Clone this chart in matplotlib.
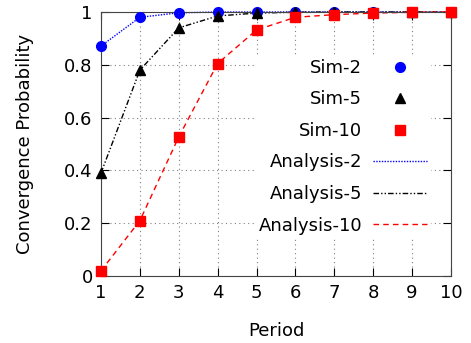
import matplotlib.pyplot as plt

periods = [1, 2, 3, 4, 5, 6, 7, 8, 9, 10]
sim_2 = [0.871, 0.98, 0.997, 1.0, 1.0, 1.0, 1.0, 1.0, 1.0, 1.0]
sim_5 = [0.39, 0.78, 0.94, 0.985, 0.996, 0.999, 1.0, 1.0, 1.0, 1.0]
sim_10 = [0.02, 0.21, 0.527, 0.805, 0.932, 0.98, 0.99, 0.996, 0.999, 1.0]
ana_2 = [0.871, 0.98, 0.997, 1.0, 1.0, 1.0, 1.0, 1.0, 1.0, 1.0]
ana_5 = [0.39, 0.78, 0.94, 0.985, 0.996, 0.999, 1.0, 1.0, 1.0, 1.0]
ana_10 = [0.02, 0.21, 0.527, 0.805, 0.932, 0.98, 0.99, 0.996, 0.999, 1.0]

plt.rcParams['font.family'] = 'DejaVu Sans'
fig, ax = plt.subplots(figsize=(4.71, 3.43), dpi=100)
fig.subplots_adjust(left=0.2144, right=0.9575, top=0.965, bottom=0.195)

ax.plot(periods, sim_2, 'o', color='blue', ms=7, label='Sim-2', clip_on=False, zorder=5)
ax.plot(periods, sim_5, '^', color='black', ms=7, label='Sim-5', clip_on=False, zorder=5)
ax.plot(periods, sim_10, 's', color='red', ms=7, label='Sim-10', clip_on=False, zorder=5)
ax.plot(periods, ana_2, color='blue', lw=1, ls=(0, (1, 1)), label='Analysis-2', clip_on=False)
ax.plot(periods, ana_5, color='black', lw=1, ls=(0, (4, 1.5, 1, 1.5, 1, 1.5)), label='Analysis-5', clip_on=False)
ax.plot(periods, ana_10, color='red', lw=1, ls=(0, (4, 3)), label='Analysis-10', clip_on=False)

ax.set_xlim(1, 10)
ax.set_ylim(0, 1)
ax.set_xticks(periods)
ax.set_yticks([0, 0.2, 0.4, 0.6, 0.8, 1])
ax.set_yticklabels(['0', '0.2', '0.4', '0.6', '0.8', '1'])
ax.tick_params(direction='in', length=6, top=True, right=True, labelsize=13, pad=6)
ax.grid(True, ls=(0, (1, 3)), color='gray', lw=0.8)
for s in ax.spines.values():
    s.set_color('#444444')

ax.set_xlabel('Period', fontsize=13, labelpad=14)
ax.set_ylabel('Convergence Probability', fontsize=13, labelpad=22)

leg = ax.legend(loc='center right', bbox_to_anchor=(0.942, 0.49), markerfirst=False,
                frameon=True, framealpha=1, edgecolor='none', fancybox=False,
                fontsize=13, handlelength=3.0, handletextpad=0.6,
                labelspacing=0.75, borderpad=0.2, borderaxespad=0)
leg.get_frame().set_linewidth(0)

fig.savefig('out.png')
